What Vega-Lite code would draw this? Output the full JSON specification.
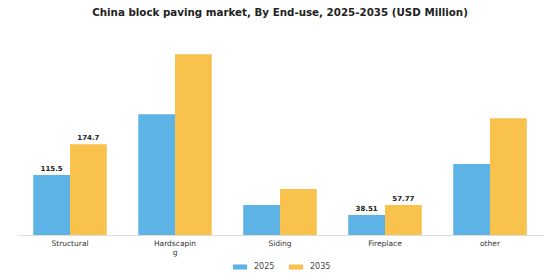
{
  "$schema": "https://vega.github.io/schema/vega-lite/v6.json",
  "autosize": "none",
  "width": 526,
  "height": 187,
  "padding": {"left": 17, "top": 48, "right": 17, "bottom": 45},
  "background": "white",
  "title": {
    "text": "China block paving market, By End-use, 2025-2035 (USD Million)",
    "font": "DejaVu Sans",
    "fontSize": 10.3,
    "fontWeight": "bold",
    "color": "#222222",
    "anchor": "middle",
    "offset": 30
  },
  "data": {
    "values": [
      {"category": "Structural", "year": "2025", "value": 115.5},
      {"category": "Structural", "year": "2035", "value": 174.7},
      {"category": "Hardscaping", "year": "2025", "value": 232.7},
      {"category": "Hardscaping", "year": "2035", "value": 348.0},
      {"category": "Siding", "year": "2025", "value": 57.7},
      {"category": "Siding", "year": "2035", "value": 88.5},
      {"category": "Fireplace", "year": "2025", "value": 38.51},
      {"category": "Fireplace", "year": "2035", "value": 57.77},
      {"category": "other", "year": "2025", "value": 136.5},
      {"category": "other", "year": "2035", "value": 225.0}
    ]
  },
  "encoding": {
    "x": {
      "field": "category",
      "type": "nominal",
      "sort": null,
      "scale": {"paddingInner": 0.3, "paddingOuter": 0.155},
      "axis": {
        "title": null,
        "labelAngle": 0,
        "labelFont": "DejaVu Sans",
        "labelFontSize": 7.5,
        "labelColor": "#333333",
        "labelPadding": 4,
        "ticks": false,
        "domainColor": "#dddddd",
        "labelExpr": "datum.label == 'Hardscaping' ? ['Hardscapin', 'g'] : datum.label"
      }
    },
    "xOffset": {"field": "year", "type": "nominal"},
    "y": {
      "field": "value",
      "type": "quantitative",
      "scale": {"domain": [0, 360], "nice": false},
      "axis": null
    }
  },
  "layer": [
    {
      "mark": {"type": "bar"},
      "encoding": {
        "color": {
          "field": "year",
          "type": "nominal",
          "scale": {"domain": ["2025", "2035"], "range": ["#5DB3E5", "#F8C24C"]},
          "legend": {
            "title": null,
            "orient": "none",
            "legendX": 215,
            "legendY": 211,
            "direction": "horizontal",
            "symbolType": "M-1,-0.36L1,-0.36L1,0.36L-1,0.36Z",
            "symbolSize": 200,
            "labelFont": "DejaVu Sans",
            "labelFontSize": 8,
            "labelColor": "#444444",
            "labelOffset": 6,
            "columnPadding": 13
          }
        }
      }
    },
    {
      "transform": [{"filter": "datum.category == 'Structural' || datum.category == 'Fireplace'"}],
      "mark": {"type": "text", "dy": -6, "font": "DejaVu Sans", "fontSize": 7, "fontWeight": "bold", "color": "#222222"},
      "encoding": {
        "text": {"field": "value", "type": "nominal"}
      }
    }
  ],
  "config": {"view": {"stroke": null}}
}
